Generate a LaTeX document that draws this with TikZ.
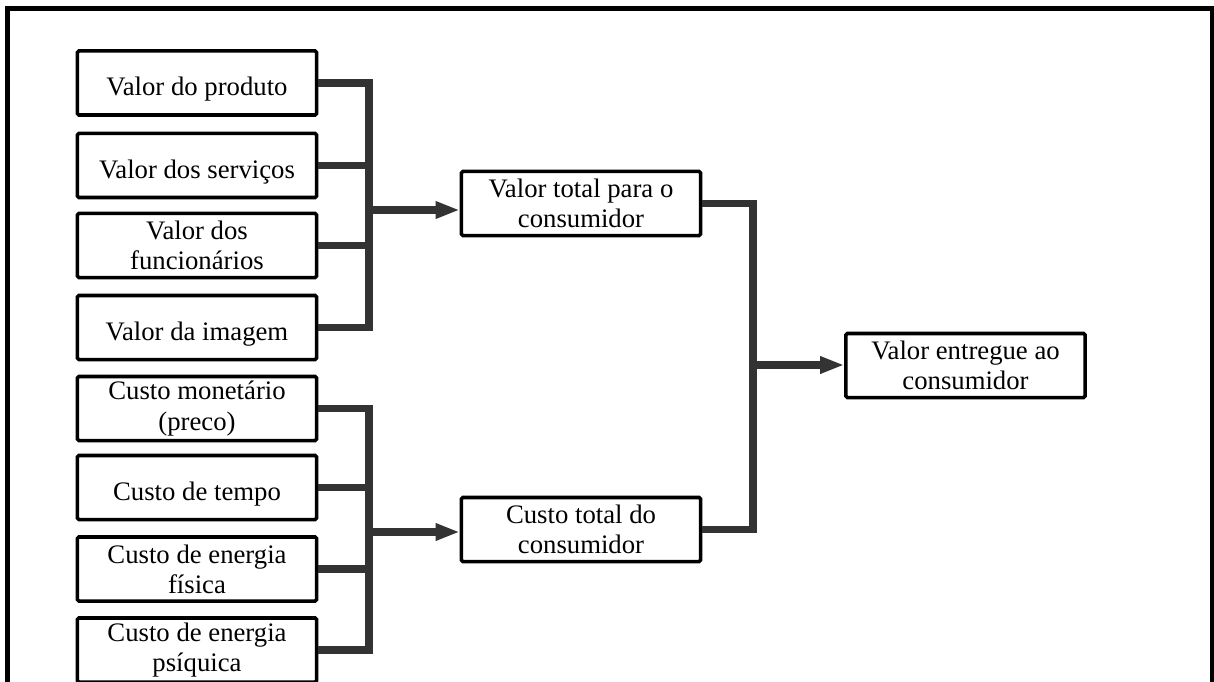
\documentclass[tikz,border=0pt]{standalone}
\usepackage{fontspec}
\setmainfont{Liberation Serif}
\usepackage{tikz}
\usetikzlibrary{arrows.meta, calc, positioning}
\definecolor{cinzaescuro}{RGB}{51, 51, 51}

\tikzset{
	caixa/.style={draw=black, line width=2.5pt, rounded corners=1pt, fill=white,
		minimum width=5.975cm, minimum height=1.6cm, inner sep=0pt, align=center,
		font=\fontsize{19}{21.5}\selectfont},
	caixa2/.style={caixa, execute at begin node={\rule{0pt}{20pt}}},
	caixa1/.style={caixa, text height=22.5pt, text depth=4.5pt},
	conn/.style={draw=cinzaescuro, line width=5pt, line join=miter},
	seta/.style={conn, -{Triangle[length=0.6cm, width=0.4cm]}}
}

\begin{document}
\begin{tikzpicture}[x=0.025cm, y=-0.025cm]
		\clip (0,0) rectangle (1214,682);
		\fill[white] (0,0) rectangle (1214,682);
		\draw[line width=3.5pt] (7.5,700) -- (7.5,8.5) -- (1212,8.5) -- (1212,700);

		\node[caixa1] (b1) at (197,83) {Valor do produto};
		\node[caixa1] (b2) at (197,165.5) {Valor dos serviços};
		\node[caixa2] (b3) at (197,245.5) {Valor dos\\funcionários};
		\node[caixa1] (b4) at (197,327.5) {Valor da imagem};

		\node[caixa2] (c1) at (197,408.5) {Custo monetário\\(preco)};
		\node[caixa1] (c2) at (197,487.5) {Custo de tempo};
		\node[caixa2] (c3) at (197,569) {Custo de energia\\física};
		\node[caixa2] (c4) at (197,650) {Custo de energia\\psíquica};

		\node[caixa2] (vt) at (581,203.5) {Valor total para o\\consumidor};
		\node[caixa2] (ct) at (581,529.5) {Custo total do\\consumidor};
		\node[caixa2] (fin) at (965.5,365.5) {Valor entregue ao\\consumidor};

		\coordinate (busA) at (369,210);
		\coordinate (busB) at (369,532);
		\coordinate (busC) at (753,365);

		\draw[conn] (b1.east) -| (busA) |- (b4.east);
		\draw[conn] (b2.east) -- (b2.east -| busA);
		\draw[conn] (b3.east) -- (b3.east -| busA);
		\draw[seta] (busA) -- (vt.west |- busA);

		\draw[conn] (c1.east) -| (busB) |- (c4.east);
		\draw[conn] (c2.east) -- (c2.east -| busB);
		\draw[conn] (c3.east) -- (c3.east -| busB);
		\draw[seta] (busB) -- (ct.west |- busB);

		\draw[conn] (vt.east) -| (busC) |- (ct.east);
		\draw[seta] (busC) -- (fin.west |- busC);
\end{tikzpicture}
\end{document}
